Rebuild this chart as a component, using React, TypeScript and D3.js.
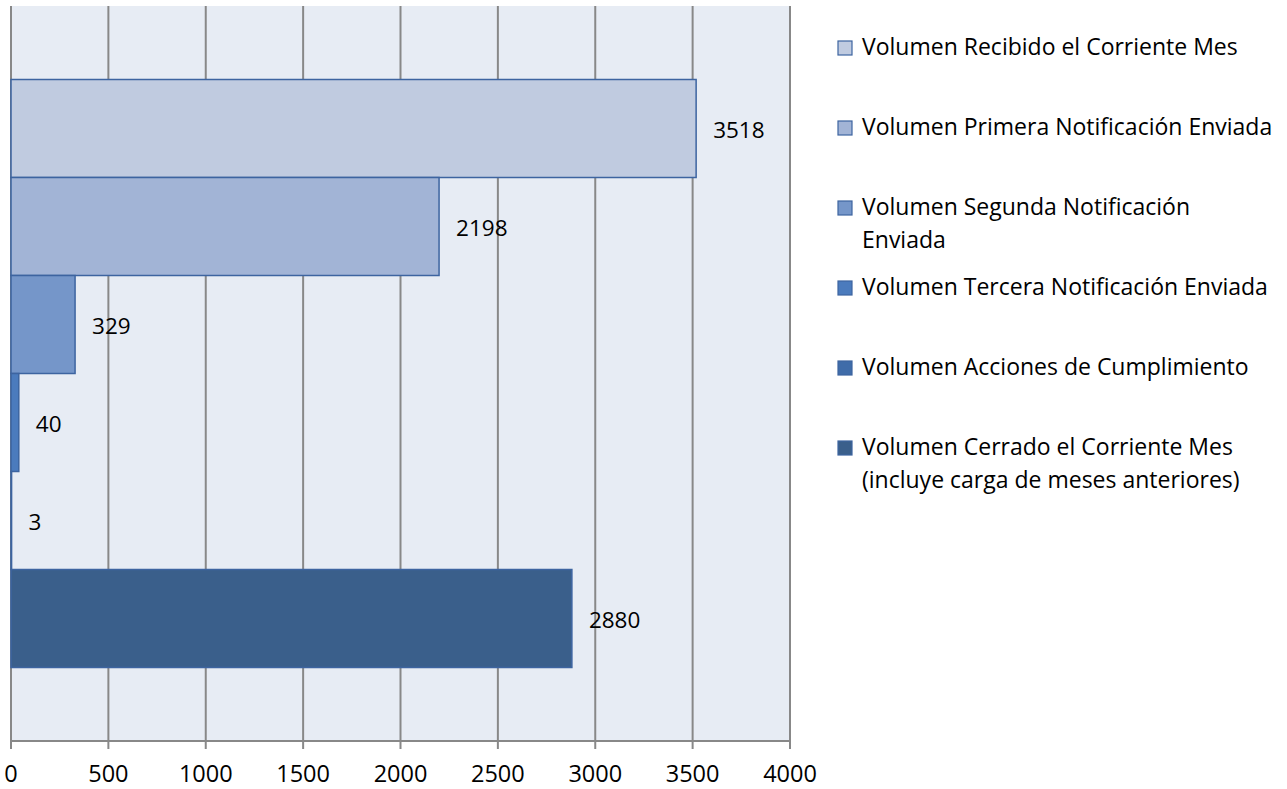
import React from "react";
import * as d3 from "d3";

const seriesNames: string[][] = [
  ["Volumen Recibido el Corriente Mes"],
  ["Volumen Primera Notificación Enviada"],
  ["Volumen Segunda Notificación", "Enviada"],
  ["Volumen Tercera Notificación Enviada"],
  ["Volumen Acciones de Cumplimiento"],
  ["Volumen Cerrado el Corriente Mes", "(incluye carga de meses anteriores)"],
];
const seriesValues: number[] = [3518, 2198, 329, 40, 3, 2880];
const seriesColors: string[] = ["#c0cbe0", "#a2b4d6", "#7596c9", "#4b7bbd", "#3f6ca9", "#3a5f8b"];
const xTicks: number[] = [0, 500, 1000, 1500, 2000, 2500, 3000, 3500, 4000];

const W = 1287;
const H = 789;
const plot = { left: 11, right: 790, top: 6, bottom: 741 };
const FONT = "'Open Sans', sans-serif";

export default function App() {
  const x = d3.scaleLinear().domain([0, 4000]).range([plot.left, plot.right]);
  const n = seriesValues.length;
  const plotH = plot.bottom - plot.top;
  const barH = plotH / (n + 1.5);
  const y = d3
    .scaleBand<number>()
    .domain(d3.range(n))
    .range([plot.top + barH * 0.75, plot.bottom - barH * 0.75])
    .padding(0);

  const legendX = 838;
  const legendY0 = 48;
  const legendStep = 80;
  const lineH = 33;

  return (
    <svg width={W} height={H} style={{ position: "absolute", left: 0, top: 0, background: "#fff" }}>
      <rect x={plot.left} y={plot.top} width={plot.right - plot.left} height={plot.bottom - plot.top} fill="#e7ecf4" />
      {xTicks.map((t) => (
        <line key={"g" + t} x1={x(t)} x2={x(t)} y1={plot.top} y2={plot.bottom + 8} stroke="#888888" strokeWidth={2} />
      ))}
      <line x1={plot.left} x2={plot.right} y1={plot.bottom} y2={plot.bottom} stroke="#888888" strokeWidth={2} />
      {seriesValues.map((v, i) => (
        <rect
          key={"b" + i}
          x={x(0)}
          y={y(i)!}
          width={Math.max(x(v) - x(0), 0.5)}
          height={y.bandwidth()}
          fill={seriesColors[i]}
          stroke="#3d64a0"
          strokeWidth={1.5}
        />
      ))}
      {seriesValues.map((v, i) => (
        <text
          key={"l" + i}
          x={x(v) + 17}
          y={y(i)! + y.bandwidth() / 2 + 3}
          fontFamily={FONT}
          fontSize={22.5}
          fill="#000"
          dominantBaseline="middle"
        >
          {v}
        </text>
      ))}
      {xTicks.map((t) => (
        <text
          key={"t" + t}
          x={x(t)}
          y={776}
          textAnchor="middle"
          dominantBaseline="middle"
          fontFamily={FONT}
          fontSize={23.5}
          fill="#000"
        >
          {t}
        </text>
      ))}
      {seriesNames.map((lines, i) => {
        const cy = legendY0 + i * legendStep;
        return (
          <g key={"lg" + i}>
            <rect x={legendX} y={cy - 7} width={14} height={14} fill={seriesColors[i]} stroke="#3d64a0" strokeWidth={1.2} />
            {lines.map((ln, j) => (
              <text
                key={j}
                x={legendX + 24}
                y={cy + j * lineH + 1}
                dominantBaseline="middle"
                fontFamily={FONT}
                fontSize={23}
                fill="#000"
              >
                {ln}
              </text>
            ))}
          </g>
        );
      })}
    </svg>
  );
}
